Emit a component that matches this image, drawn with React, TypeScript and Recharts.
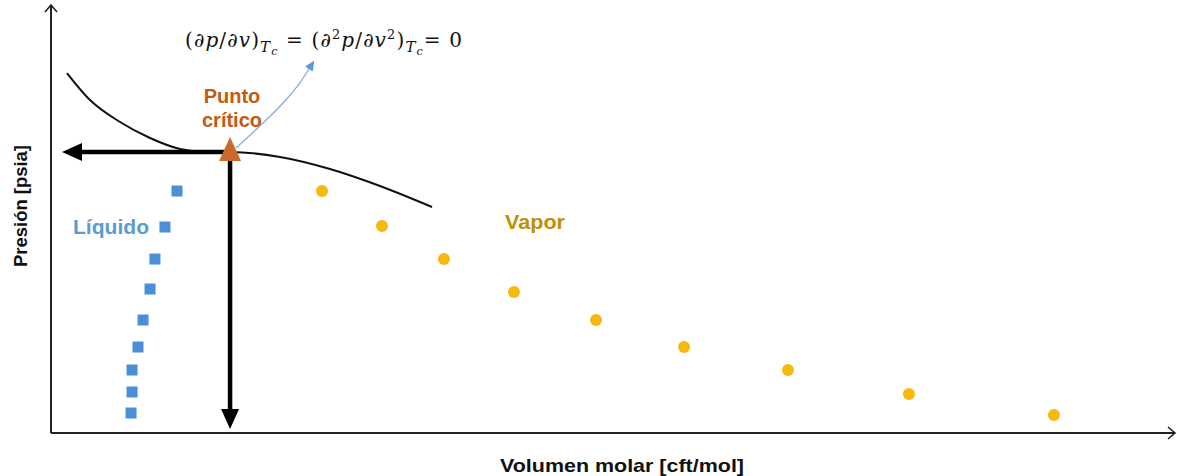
import React from "react";
import { ComposedChart, XAxis, YAxis, Line, Scatter } from "recharts";

// Schematic P–v diagram, arbitrary units (0–100 on both axes)
const liquidVolume = [11.21, 10.14, 9.25, 8.81, 8.19, 7.74, 7.21, 7.21, 7.12];
const liquidPressure = [56.54, 48.13, 40.65, 33.64, 26.4, 20.09, 14.72, 9.58, 4.67];

const vaporVolume = [24.11, 29.45, 34.96, 41.19, 48.49, 56.32, 65.57, 76.33, 89.23];
const vaporPressure = [56.54, 48.36, 40.65, 32.94, 26.4, 20.09, 14.72, 9.11, 4.21];

const isothermVolume = [1.42, 3.47, 6.14, 8.81, 11.48, 13.88, 15.93, 20.37, 24.82, 29.27, 33.9];
const isothermPressure = [84.11, 77.8, 72.66, 68.93, 66.36, 65.65, 65.65, 64.49, 61.68, 57.71, 52.8];

const criticalVolume = 15.93;
const criticalPressure = 65.65;

// axis extents
const axisMin = 0;
const axisMax = 100;

// arrow ends (base of the arrow heads)
const pressureArrowEndVolume = 2.76;
const volumeArrowEndPressure = 5.61;

// light-blue pointer towards the equation
const pointerVolume = [16.46, 18.77, 20.73, 22.06, 22.95];
const pointerPressure = [66.59, 72.2, 77.34, 81.54, 85.05];

const zip = (xs: number[], ys: number[]) => xs.map((x, i) => ({ x, y: ys[i] }));

const liquidData = zip(liquidVolume, liquidPressure);
const vaporData = zip(vaporVolume, vaporPressure);
const isothermData = zip(isothermVolume, isothermPressure);
const criticalData = [{ x: criticalVolume, y: criticalPressure }];
const xAxisData = [
  { x: axisMin, y: axisMin },
  { x: axisMax, y: axisMin },
];
const yAxisData = [
  { x: axisMin, y: axisMin },
  { x: axisMin, y: axisMax },
];
const pressureArrow = [
  { x: criticalVolume, y: criticalPressure },
  { x: pressureArrowEndVolume, y: criticalPressure },
];
const volumeArrow = [
  { x: criticalVolume, y: criticalPressure },
  { x: criticalVolume, y: volumeArrowEndPressure },
];
const pointerData = zip(pointerVolume, pointerPressure);

const BLUE = "#4A8FD8";
const GOLD = "#F5B90F";
const ORANGE = "#C96B2C";

const Square = (props: any) => (
  <rect x={props.cx - 5.5} y={props.cy - 5.5} width={11} height={11} fill={BLUE} />
);
const Dot = (props: any) => <circle cx={props.cx} cy={props.cy} r={6} fill={GOLD} />;
const Triangle = (props: any) => {
  const { cx, cy } = props;
  return (
    <polygon
      points={`${cx},${cy - 15} ${cx - 11},${cy + 9} ${cx + 11},${cy + 9}`}
      fill={ORANGE}
    />
  );
};

export default function App() {
  const sans = "'Liberation Sans', Arial, sans-serif";
  const serif = "'DejaVu Serif', 'Liberation Serif', serif";
  return (
    <div style={{ position: "absolute", left: 0, top: 0, width: 1177, height: 476, background: "#fff" }}>
      <svg width={0} height={0} style={{ position: "absolute" }}>
        <defs>
          <marker id="axisArrow" viewBox="-10 -8 12 16" refX={0} refY={0} markerWidth={12} markerHeight={16}
            markerUnits="userSpaceOnUse" orient="auto" overflow="visible">
            <path d="M-7,-6 L0,0 L-7,6" fill="none" stroke="#222" strokeWidth={1.6} />
          </marker>
          <marker id="bigArrow" viewBox="0 -9 22 18" refX={0} refY={0} markerWidth={22} markerHeight={18}
            markerUnits="userSpaceOnUse" orient="auto" overflow="visible">
            <path d="M0,-9 L20,0 L0,9 Z" fill="#000" />
          </marker>
          <marker id="blueArrow" viewBox="0 -6 12 12" refX={0} refY={0} markerWidth={12} markerHeight={12}
            markerUnits="userSpaceOnUse" orient="auto" overflow="visible">
            <path d="M0,-4.5 L10,0 L0,4.5 Z" fill="#5B9BD5" />
          </marker>
        </defs>
      </svg>
      <div style={{ position: "absolute", left: 0, top: 0 }}>
        <ComposedChart width={1177} height={476} margin={{ top: 5, right: 2, left: 51, bottom: 43 }}>
          <XAxis type="number" dataKey="x" domain={[axisMin, axisMax]} hide />
          <YAxis type="number" dataKey="y" domain={[axisMin, axisMax]} hide />
          <Line data={xAxisData} dataKey="y" type="linear" stroke="#222" strokeWidth={2}
            dot={false} isAnimationActive={false} markerEnd="url(#axisArrow)" />
          <Line data={yAxisData} dataKey="y" type="linear" stroke="#222" strokeWidth={2}
            dot={false} isAnimationActive={false} markerEnd="url(#axisArrow)" />
          <Line data={isothermData} dataKey="y" type="monotone" stroke="#111" strokeWidth={2}
            dot={false} isAnimationActive={false} />
          <Line data={pointerData} dataKey="y" type="natural" stroke="#7FB0DF" strokeWidth={1.3}
            dot={false} isAnimationActive={false} markerEnd="url(#blueArrow)" />
          <Line data={pressureArrow} dataKey="y" type="linear" stroke="#000" strokeWidth={4.5}
            dot={false} isAnimationActive={false} markerEnd="url(#bigArrow)" />
          <Line data={volumeArrow} dataKey="y" type="linear" stroke="#000" strokeWidth={4.5}
            dot={false} isAnimationActive={false} markerEnd="url(#bigArrow)" />
          <Scatter data={liquidData} shape={Square} isAnimationActive={false} />
          <Scatter data={vaporData} shape={Dot} isAnimationActive={false} />
          <Scatter data={criticalData} shape={Triangle} isAnimationActive={false} />
        </ComposedChart>
      </div>
      <svg width={1177} height={476} style={{ position: "absolute", left: 0, top: 0, pointerEvents: "none" }}>
        <text x={232} y={103} textAnchor="middle" fontFamily={sans} fontWeight="bold" fontSize={20} fill="#C55A11">Punto</text>
        <text x={232} y={127} textAnchor="middle" fontFamily={sans} fontWeight="bold" fontSize={20} fill="#C55A11">crítico</text>
        <text x={73} y={234} fontFamily={sans} fontWeight="bold" fontSize={20} fill="#5B9BD5" textLength={76} lengthAdjust="spacingAndGlyphs">Líquido</text>
        <text x={505} y={229} fontFamily={sans} fontWeight="bold" fontSize={20} fill="#BF9000" textLength={60} lengthAdjust="spacingAndGlyphs">Vapor</text>
        <text x={622} y={472} textAnchor="middle" fontFamily={sans} fontWeight="bold" fontSize={19} fill="#111" textLength={244} lengthAdjust="spacingAndGlyphs">Volumen molar [cft/mol]</text>
        <text x={27} y={206} transform="rotate(-90 27 206)" textAnchor="middle" fontFamily={sans} fontWeight="bold" fontSize={18} fill="#111" textLength={122} lengthAdjust="spacingAndGlyphs">Presión [psia]</text>
        <text x={185} y={47} fontFamily={serif} fontSize={20} fill="#111" textLength={277} lengthAdjust="spacing">
          <tspan>(∂</tspan><tspan fontStyle="italic">p</tspan><tspan>/∂</tspan><tspan fontStyle="italic">v</tspan><tspan>)</tspan>
          <tspan fontStyle="italic" fontSize={15} dy={5}>T</tspan><tspan fontStyle="italic" fontSize={11} dy={3}>c</tspan>
          <tspan dy={-8}> = (∂</tspan><tspan fontSize={13} dy={-8}>2</tspan><tspan fontStyle="italic" dy={8}>p</tspan>
          <tspan>/∂</tspan><tspan fontStyle="italic">v</tspan><tspan fontSize={13} dy={-8}>2</tspan><tspan dy={8}>)</tspan>
          <tspan fontStyle="italic" fontSize={15} dy={5}>T</tspan><tspan fontStyle="italic" fontSize={11} dy={3}>c</tspan>
          <tspan dy={-8}>= 0</tspan>
        </text>
      </svg>
    </div>
  );
}
